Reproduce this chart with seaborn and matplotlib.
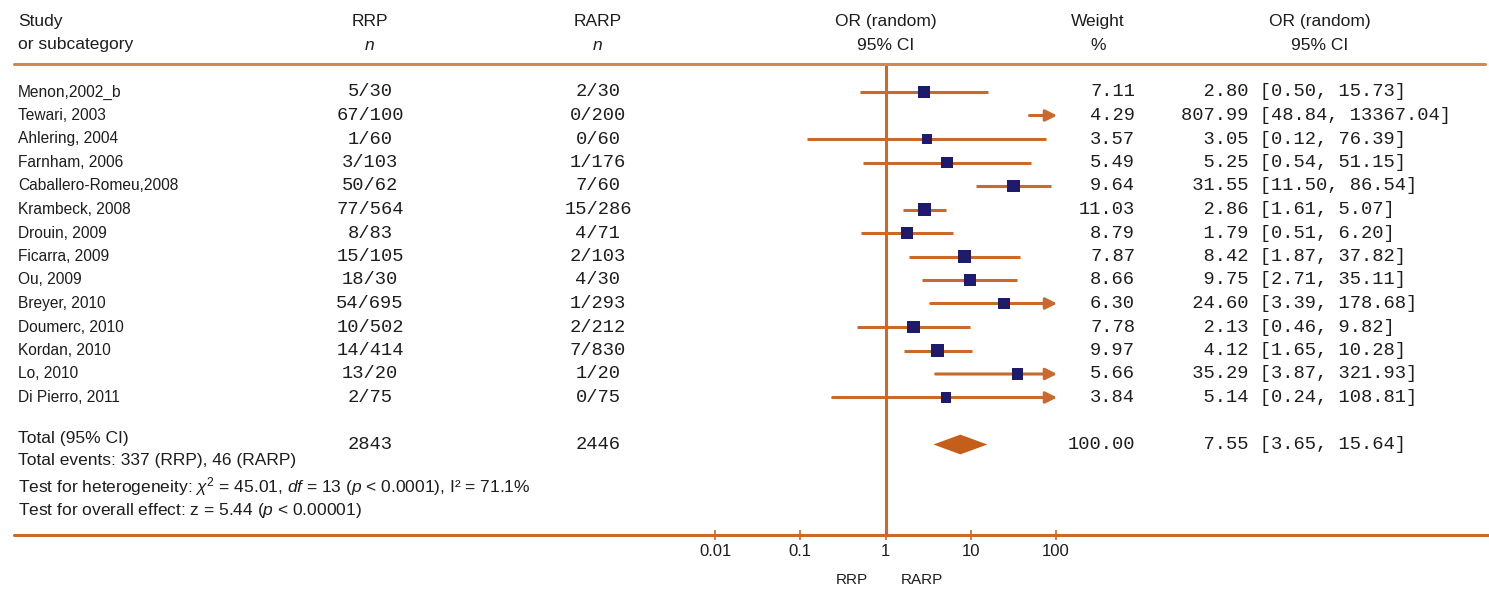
import matplotlib
matplotlib.use("Agg")
import matplotlib.pyplot as plt
from matplotlib.lines import Line2D
from matplotlib.transforms import blended_transform_factory
import pandas as pd
import seaborn as sns

# ---- data -------------------------------------------------------------
studies = ["Menon,2002_b", "Tewari, 2003", "Ahlering, 2004", "Farnham, 2006",
           "Caballero-Romeu,2008", "Krambeck, 2008", "Drouin, 2009", "Ficarra, 2009",
           "Ou, 2009", "Breyer, 2010", "Doumerc, 2010", "Kordan, 2010", "Lo, 2010",
           "Di Pierro, 2011"]
rrp_events = [5, 67, 1, 3, 50, 77, 8, 15, 18, 54, 10, 14, 13, 2]
rrp_total = [30, 100, 60, 103, 62, 564, 83, 105, 30, 695, 502, 414, 20, 75]
rarp_events = [2, 0, 0, 1, 7, 15, 4, 2, 4, 1, 2, 7, 1, 0]
rarp_total = [30, 200, 60, 176, 60, 286, 71, 103, 30, 293, 212, 830, 20, 75]
weights = [7.11, 4.29, 3.57, 5.49, 9.64, 11.03, 8.79, 7.87, 8.66, 6.30, 7.78, 9.97, 5.66, 3.84]
odds_ratio = [2.80, 807.99, 3.05, 5.25, 31.55, 2.86, 1.79, 8.42, 9.75, 24.60, 2.13, 4.12, 35.29, 5.14]
ci_low = [0.50, 48.84, 0.12, 0.54, 11.50, 1.61, 0.51, 1.87, 2.71, 3.39, 0.46, 1.65, 3.87, 0.24]
ci_high = [15.73, 13367.04, 76.39, 51.15, 86.54, 5.07, 6.20, 37.82, 35.11, 178.68, 9.82,
           10.28, 321.93, 108.81]
total_n = [2843, 2446]
total_events = [337, 46]
total_weight = 100.00
total_or = 7.55
total_low = 3.65
total_high = 15.64
axis_ticks = [0.01, 0.1, 1, 10, 100]
axis_tick_labels = ["0.01", "0.1", "1", "10", "100"]
group_labels = ["RRP", "RARP"]

# ---- style ------------------------------------------------------------
sns.set_theme(style="white")
plt.rcParams["font.family"] = ["Liberation Sans", "DejaVu Sans"]
plt.rcParams["mathtext.fontset"] = "custom"
plt.rcParams["mathtext.rm"] = "Liberation Sans"
plt.rcParams["mathtext.it"] = "Liberation Sans:italic"

ORANGE = "#C9692B"
RULE = "#D4874F"
DIAMOND = "#C45F1B"
NAVY = "#1E1B6F"
INK = "#1d1d1d"
MONO = "Liberation Mono"

W, H = 1489, 591
fig = plt.figure(figsize=(W / 100, H / 100), dpi=100)
fig.patch.set_facecolor("white")


def fx(px):
    return px / W


def fy(py):
    return 1 - py / H


# forest panel spans 0.01 .. 100 on a log scale
ax_top, ax_bot = 64, 535
ax = fig.add_axes([fx(715), fy(ax_bot), fx(1056) - fx(715), (ax_bot - ax_top) / H])
ax.set_xscale("log")
ax.set_xlim(0.01, 100)
row0, row_step = 92, 23.5
ax.set_ylim((ax_bot - row0) / row_step, (ax_top - row0) / row_step)
ax.set_facecolor("none")
for s in ax.spines.values():
    s.set_visible(False)

n = len(studies)
rows = list(range(n))
df = pd.DataFrame({"study": studies, "or": odds_ratio, "lo": ci_low, "hi": ci_high,
                   "w": weights, "row": rows})

# confidence intervals (arrow where the interval runs past the axis)
xmin, xmax = ax.get_xlim()
for _, r in df.iterrows():
    x0 = max(r["lo"], xmin)
    if r["hi"] > xmax:
        ax.annotate("", xy=(xmax * 1.03, r["row"]), xytext=(x0, r["row"]),
                    arrowprops=dict(arrowstyle="-|>", color=ORANGE, lw=2.2,
                                    mutation_scale=17, shrinkA=0, shrinkB=0),
                    annotation_clip=False, zorder=2)
    else:
        ax.plot([x0, r["hi"]], [r["row"], r["row"]], color=ORANGE, lw=2.2,
                solid_capstyle="butt", zorder=2)

# point estimates sized by weight
sns.scatterplot(data=df[df["or"] <= xmax], x="or", y="row", size="w", sizes=(55, 95),
                marker="s", color=NAVY, linewidth=0, legend=False, ax=ax, zorder=3)

# pooled estimate diamond
total_row = 15
dh = 0.42
ax.fill([total_low, total_or, total_high, total_or],
        [total_row, total_row - dh, total_row, total_row + dh],
        color=DIAMOND, lw=0, zorder=3)

# line of no effect
ax.axvline(1, color=ORANGE, lw=2.2, zorder=1)

ax.set_xticks(axis_ticks)
ax.set_xticklabels(axis_tick_labels)
ax.minorticks_off()
ax.set_yticks([])
ax.set_xlabel("")
ax.set_ylabel("")
ax.tick_params(axis="x", direction="inout", length=7, width=1.2, color=ORANGE,
               labelsize=12, labelcolor=INK, pad=3, bottom=True)

# horizontal rules across the full width
fig.add_artist(Line2D([fx(14), fx(1485)], [fy(ax_top), fy(ax_top)], color=RULE, lw=2.2))
fig.add_artist(Line2D([fx(14), fx(1489)], [fy(ax_bot), fy(ax_bot)], color=ORANGE, lw=2.2))

tr = blended_transform_factory(fig.transFigure, ax.transData)

# column headers
hdr = dict(transform=tr, fontsize=12.5, color=INK, va="center", clip_on=False)
ax.text(fx(18), -3, "Study", ha="left", **hdr)
ax.text(fx(18), -2, "or subcategory", ha="left", **hdr)
ax.text(fx(370), -3, "RRP", ha="center", **hdr)
ax.text(fx(370), -2, "n", ha="center", style="italic", **hdr)
ax.text(fx(598), -3, "RARP", ha="center", **hdr)
ax.text(fx(598), -2, "n", ha="center", style="italic", **hdr)
ax.text(fx(886), -3, "OR (random)", ha="center", **hdr)
ax.text(fx(886), -2, "95% CI", ha="center", **hdr)
ax.text(fx(1098), -3, "Weight", ha="center", **hdr)
ax.text(fx(1098), -2, "%", ha="center", **hdr)
ax.text(fx(1320), -3, "OR (random)", ha="center", **hdr)
ax.text(fx(1320), -2, "95% CI", ha="center", **hdr)

# per-study rows
body = dict(transform=tr, fontsize=11.2, color=INK, va="center", clip_on=False)
foot = dict(transform=tr, fontsize=12.5, color=INK, va="center", clip_on=False)
mono = dict(transform=tr, fontsize=13.5, family=MONO, color=INK, va="center", clip_on=False)
for i in rows:
    ax.text(fx(18), i, studies[i], ha="left", **body)
    ax.text(fx(370), i, f"{rrp_events[i]}/{rrp_total[i]}", ha="center", **mono)
    ax.text(fx(598), i, f"{rarp_events[i]}/{rarp_total[i]}", ha="center", **mono)
    ax.text(fx(1135), i, f"{weights[i]:.2f}", ha="right", **mono)
    ax.text(fx(1181), i, f"{odds_ratio[i]:>6.2f} [{ci_low[i]:.2f}, {ci_high[i]:.2f}]",
            ha="left", **mono)

# pooled row and summary statistics
ax.text(fx(18), 14.75, "Total (95% CI)", ha="left", **foot)
ax.text(fx(370), total_row, f"{total_n[0]}", ha="center", **mono)
ax.text(fx(598), total_row, f"{total_n[1]}", ha="center", **mono)
ax.text(fx(1135), total_row, f"{total_weight:.2f}", ha="right", **mono)
ax.text(fx(1181), total_row, f"{total_or:>6.2f} [{total_low:.2f}, {total_high:.2f}]",
        ha="left", **mono)
ax.text(fx(18), 15.66,
        f"Total events: {total_events[0]} ({group_labels[0]}), {total_events[1]} ({group_labels[1]})",
        ha="left", **foot)
ax.text(fx(18), 16.8,
        r"Test for heterogeneity: $\chi^2$ = 45.01, $df$ = 13 ($p$ < 0.0001), I² = 71.1%",
        ha="left", **foot)
ax.text(fx(18), 17.8, r"Test for overall effect: z = 5.44 ($p$ < 0.00001)", ha="left", **foot)

# direction labels under the axis
ax.text(fx(852), 20.75, group_labels[0], ha="center", transform=tr, fontsize=11,
        color=INK, va="center", clip_on=False)
ax.text(fx(922), 20.75, group_labels[1], ha="center", transform=tr, fontsize=11,
        color=INK, va="center", clip_on=False)

fig.savefig("out.png", dpi=100, facecolor="white")
